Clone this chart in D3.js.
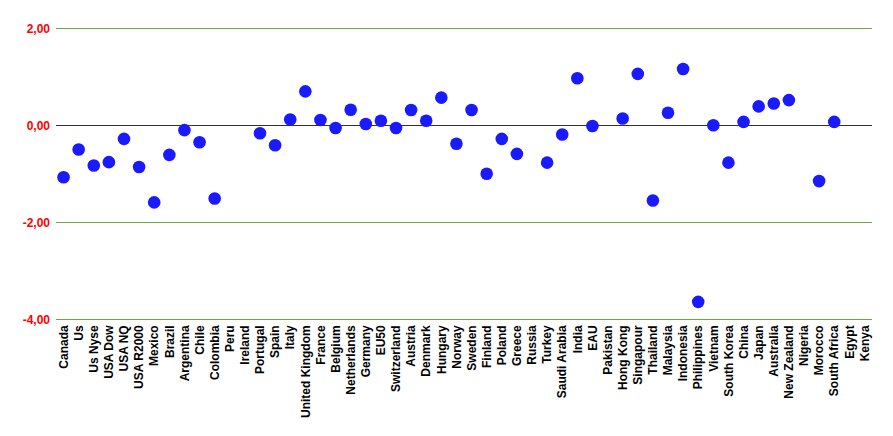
<!DOCTYPE html>
<html><head><meta charset="utf-8">
<script src="https://cdn.jsdelivr.net/npm/d3@7"></script>
<style>body{margin:0;background:#fff}svg{display:block}</style>
</head><body>
<svg id="c" width="893" height="436"></svg>
<script>
const categories = ["Canada","Us","Us Nyse","USA Dow","USA NQ","USA R2000","Mexico","Brazil","Argentina","Chile","Colombia","Peru","Ireland","Portugal","Spain","Italy","United Kingdom","France","Belgium","Netherlands","Germany","EU50","Switzerland","Austria","Denmark","Hungary","Norway","Sweden","Finland","Poland","Greece","Russia","Turkey","Saudi Arabia","India","EAU","Pakistan","Hong Kong","Singapour","Thailand","Malaysia","Indonesia","Philippines","Vietnam","South Korea","China","Japan","Australia","New Zealand","Nigeria","Morocco","South Africa","Egypt","Kenya"];
const values = [-1.07,-0.50,-0.83,-0.76,-0.28,-0.86,-1.59,-0.61,-0.10,-0.35,-1.51,null,null,-0.165,-0.41,0.12,0.70,0.11,-0.056,0.32,0.027,0.095,-0.056,0.315,0.095,0.57,-0.38,0.315,-1.00,-0.28,-0.59,null,-0.77,-0.19,0.97,-0.014,null,0.14,1.06,-1.55,0.26,1.16,-3.64,0.00,-0.77,0.07,0.39,0.45,0.52,null,-1.15,0.07,null,null];
const yTicks = [2,0,-2,-4];
const yLabels = ["2,00","0,00","-2,00","-4,00"];

const svg = d3.select("#c");
const mLeft = 56, mRight = 872, mTop = 28.3, mBottom = 319.3;
const x = d3.scaleBand().domain(categories).range([mLeft, mRight]);
const y = d3.scaleLinear().domain([-4, 2]).range([mBottom, mTop]);

// grid lines
svg.append("g").selectAll("line").data(yTicks).join("line")
  .attr("x1", mLeft).attr("x2", mRight)
  .attr("y1", d => Math.round(y(d)) + 0.5).attr("y2", d => Math.round(y(d)) + 0.5)
  .attr("stroke", d => d === 0 ? "#333" : "#6aa843").attr("stroke-width", 1.2);

// y labels
const yAxis = d3.axisLeft(y).tickValues(yTicks).tickSize(0).tickPadding(6)
  .tickFormat(d => yLabels[yTicks.indexOf(d)]);
const ya = svg.append("g").attr("transform", `translate(${mLeft},0)`).call(yAxis);
ya.select(".domain").remove();
ya.selectAll("text").attr("fill", "#ff0000").style("font-family", "Liberation Sans, Arial, sans-serif")
  .style("font-size", "12px").style("font-weight", "bold");

// x labels
const xAxis = d3.axisBottom(x).tickSize(0).tickPadding(0);
const xa = svg.append("g").attr("transform", `translate(0,${mBottom})`).call(xAxis);
xa.select(".domain").remove();
xa.selectAll("text")
  .attr("transform", "rotate(-90)")
  .attr("x", -6).attr("y", 0).attr("dy", "0.35em")
  .style("text-anchor", "end")
  .attr("fill", "#000")
  .style("font-family", "Liberation Sans, Arial, sans-serif")
  .style("font-size", "12px").style("font-weight", "bold");

// points
const pts = categories.map((c, i) => ({c, v: values[i]})).filter(d => d.v !== null);
svg.append("g").selectAll("circle").data(pts).join("circle")
  .attr("cx", d => x(d.c) + x.bandwidth() / 2)
  .attr("cy", d => y(d.v))
  .attr("r", 6.3)
  .attr("fill", "#1a1aff");
</script>
</body></html>
